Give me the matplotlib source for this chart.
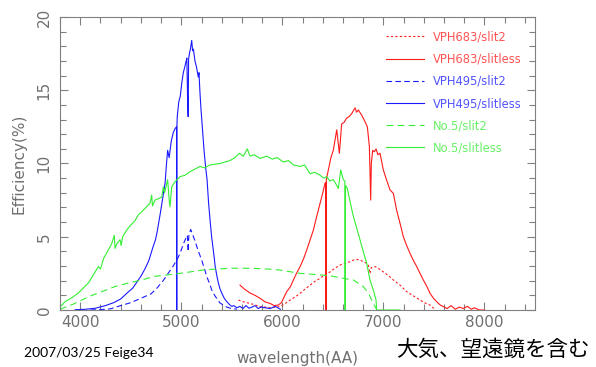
import matplotlib
matplotlib.use('Agg')
import matplotlib.pyplot as plt
from matplotlib.ticker import MultipleLocator

# VPH495 / slitless
lam_b = [3950, 4050, 4150, 4250, 4330, 4400, 4470, 4520, 4560, 4600, 4640, 4680, 4720, 4745, 4760,
         4790, 4820, 4840, 4855, 4865, 4880, 4900, 4920, 4940, 4953, 4955, 4957, 4960, 4975, 4990,
         5005, 5020, 5035, 5045, 5055, 5062, 5068, 5072, 5080, 5090, 5103, 5112, 5120, 5135, 5150,
         5160, 5168, 5175, 5185, 5195, 5210, 5225, 5240, 5255, 5270, 5285, 5300, 5320, 5335, 5350,
         5367, 5385, 5400, 5425, 5450, 5480, 5500, 5520, 5550, 5580, 5610, 5640, 5670, 5700, 5730,
         5760, 5790, 5830, 5880, 5930, 5980]
eff_b = [0.02, 0.05, 0.12, 0.3, 0.5, 0.75, 1.2, 1.5, 1.9, 2.3, 2.8, 3.4, 4.3, 4.8, 5.3,
         6.5, 7.8, 8.7, 10.1, 10.9, 10.4, 11.5, 12.1, 12.4, 12.5, 0.0, 12.6, 13.2, 14.2, 14.6,
         15.5, 16.2, 16.6, 16.9, 17.2, 14.5, 13.2, 17.1, 17.5, 17.8, 18.4, 17.7, 17.8, 17.0, 16.6,
         16.2, 15.9, 16.2, 14.8, 13.7, 12.3, 10.9, 9.8, 8.9, 7.3, 6.1, 5.0, 3.9, 3.0, 2.4,
         1.84, 1.4, 1.16, 0.8, 0.57, 0.35, 0.25, 0.3, 0.15, 0.25, 0.1, 0.3, 0.12, 0.2, 0.3,
         0.1, 0.2, 0.15, 0.1, 0.25, 0.05]

# VPH495 / slit2
lam_bd = [4100, 4200, 4300, 4400, 4500, 4600, 4700, 4760, 4820, 4870, 4920, 4970, 5000, 5020, 5045,
          5060, 5068, 5075, 5093, 5110, 5136, 5170, 5202, 5230, 5251, 5280, 5301, 5330, 5350, 5380,
          5415, 5450, 5482, 5550]
eff_bd = [0.0, 0.03, 0.08, 0.3, 0.5, 0.8, 1.1, 1.5, 2.0, 2.5, 3.0, 3.6, 4.1, 4.5, 4.9,
          5.1, 4.0, 5.1, 5.5, 5.2, 4.7, 4.0, 3.4, 2.8, 2.3, 1.8, 1.37, 1.0, 0.8, 0.5,
          0.34, 0.2, 0.13, 0.05]

# No.5 / slitless
lam_g = [3800, 3850, 3920, 3981, 4030, 4080, 4130, 4179, 4200, 4230, 4278, 4310, 4337, 4345, 4360,
         4394, 4405, 4420, 4460, 4500, 4542, 4575, 4608, 4650, 4691, 4707, 4715, 4740, 4773, 4806,
         4822, 4835, 4865, 4880, 4888, 4905, 4938, 4987, 5037, 5086, 5130, 5185, 5230, 5284, 5330,
         5383, 5430, 5482, 5530, 5574, 5614, 5653, 5680, 5720, 5779, 5845, 5900, 5950, 6010, 6060,
         6110, 6175, 6220, 6274, 6320, 6373, 6410, 6439, 6470, 6504, 6530, 6554, 6577, 6603, 6618,
         6621, 6625, 6643, 6670, 6702, 6735, 6768, 6800, 6834, 6867, 6900, 6927, 6933, 7000, 7165]
eff_g = [0.2, 0.57, 0.85, 1.16, 1.5, 1.84, 2.4, 2.96, 2.8, 3.5, 4.1, 4.5, 5.1, 4.2, 4.5,
         4.8, 4.4, 5.0, 5.46, 5.8, 6.1, 6.5, 6.7, 7.0, 7.3, 7.85, 7.1, 7.5, 7.6, 7.7,
         8.4, 8.0, 8.9, 7.5, 7.05, 8.4, 8.76, 9.1, 9.2, 9.44, 9.6, 9.8, 9.7, 9.9, 9.95,
         10.0, 10.1, 10.2, 10.4, 10.7, 10.5, 11.0, 10.5, 10.6, 10.35, 10.5, 10.3, 10.4, 10.1, 10.2,
         9.9, 9.8, 9.9, 9.3, 9.4, 9.2, 9.0, 9.1, 8.8, 8.9, 8.6, 8.3, 9.56, 8.9, 8.8,
         0.0, 8.5, 8.3, 7.4, 6.4, 5.6, 4.8, 4.0, 3.2, 2.05, 1.37, 0.68, 0.0, 0.0, 0.0]

# No.5 / slit2
lam_gd = [3800, 3948, 4080, 4212, 4344, 4476, 4608, 4740, 4872, 5037, 5218, 5350, 5500, 5680, 5845,
          5977, 6175, 6373, 6500, 6603, 6702, 6801, 6851, 6900, 6927]
eff_gd = [0.05, 0.45, 0.9, 1.25, 1.6, 1.84, 2.05, 2.3, 2.4, 2.55, 2.73, 2.8, 2.85, 2.85, 2.8,
          2.73, 2.5, 2.4, 2.3, 2.16, 2.05, 1.6, 1.16, 0.45, 0.1]

# VPH683 / slitless
lam_r = [5581, 5620, 5680, 5730, 5779, 5830, 5878, 5920, 5960, 5990, 6043, 6080, 6109, 6140, 6175,
         6210, 6241, 6275, 6307, 6340, 6373, 6400, 6422, 6429, 6432, 6435, 6455, 6480, 6504, 6538,
         6564, 6587, 6610, 6636, 6660, 6686, 6719, 6735, 6752, 6785, 6818, 6841, 6861, 6874, 6880,
         6894, 6910, 6927, 6945, 6966, 6999, 7030, 7065, 7098, 7131, 7165, 7197, 7230, 7263, 7295,
         7330, 7362, 7395, 7430, 7461, 7495, 7527, 7560, 7593, 7630, 7670, 7710, 7750, 7790, 7830,
         7870, 7900, 7950, 8000]
eff_r = [1.7, 1.45, 1.16, 1.0, 0.8, 0.55, 0.45, 0.3, 0.34, 0.5, 1.25, 1.6, 2.05, 2.5, 2.96,
         3.5, 4.1, 4.8, 5.46, 6.4, 7.28, 8.0, 8.65, 8.7, 0.0, 8.9, 9.56, 10.4, 10.9, 12.3,
         10.7, 12.7, 12.8, 13.1, 13.2, 13.4, 13.8, 13.5, 13.65, 13.3, 12.85, 12.5, 11.15, 7.5, 10.0,
         10.9, 10.8, 11.0, 10.6, 10.7, 9.56, 8.9, 8.2, 7.96, 6.8, 5.9, 5.0, 4.4, 3.87, 3.4,
         2.96, 2.5, 2.05, 1.6, 1.14, 0.8, 0.57, 0.35, 0.23, 0.1, 0.3, 0.05, 0.2, 0.1, 0.25,
         0.05, 0.15, 0.0, 0.0]

# VPH683 / slit2
lam_rd = [5565, 5620, 5680, 5730, 5779, 5830, 5878, 5930, 5977, 6030, 6076, 6130, 6175, 6220, 6274,
          6320, 6373, 6420, 6472, 6520, 6571, 6620, 6670, 6700, 6736, 6770, 6801, 6830, 6851, 6860,
          6867, 6880, 6917, 6960, 6999, 7050, 7098, 7164, 7230, 7300, 7362, 7420, 7461, 7500]
eff_rd = [0.68, 0.55, 0.45, 0.35, 0.23, 0.2, 0.15, 0.2, 0.23, 0.45, 0.68, 0.9, 1.14, 1.4, 1.7,
          1.95, 2.16, 2.4, 2.6, 2.85, 3.07, 3.2, 3.3, 3.4, 3.46, 3.4, 3.3, 3.2, 3.07, 2.7,
          2.5, 2.9, 2.96, 2.8, 2.6, 2.35, 2.05, 1.7, 1.25, 0.95, 0.68, 0.45, 0.34, 0.1]

red = '#ff1a1a'
blue = '#1a1aff'
green = '#33ee33'
gray = '#808080'

fig = plt.figure(figsize=(5.96, 3.67), dpi=100)
ax = fig.add_axes([0.1007, 0.1553, 0.797, 0.7984])

lw = 0.8
ax.plot(lam_rd, eff_rd, color=red, lw=lw, dashes=(2, 2), label='VPH683/slit2')
ax.plot(lam_r, eff_r, color=red, lw=lw, label='VPH683/slitless')
ax.plot(lam_bd, eff_bd, color=blue, lw=lw, dashes=(5, 3), label='VPH495/slit2')
ax.plot(lam_b, eff_b, color=blue, lw=lw, label='VPH495/slitless')
ax.plot(lam_gd, eff_gd, color=green, lw=lw, dashes=(6, 4), label='No.5/slit2')
ax.plot(lam_g, eff_g, color=green, lw=lw, label='No.5/slitless')

ax.set_xlim(3800, 8500)
ax.set_ylim(0, 20)
ax.xaxis.set_major_locator(MultipleLocator(1000))
ax.xaxis.set_minor_locator(MultipleLocator(200))
ax.yaxis.set_major_locator(MultipleLocator(5))
ax.yaxis.set_minor_locator(MultipleLocator(1))
ax.tick_params(which='both', direction='in', top=True, right=True, color=gray,
               labelcolor='#707070', labelsize=11)
ax.tick_params(which='major', length=6, width=0.8)
ax.tick_params(which='minor', length=4, width=0.8)
ax.tick_params(axis='y', labelrotation=90, pad=6)
for t in ax.get_yticklabels():
    t.set_va('center')
for s in ax.spines.values():
    s.set_color(gray)
    s.set_linewidth(0.8)

ax.set_xlabel('wavelength(AA)', color='#707070', fontsize=11, labelpad=15)
ax.set_ylabel('Efficiency(%)', color='#707070', fontsize=11, labelpad=7)

leg = ax.legend(loc='upper right', bbox_to_anchor=(0.982, 0.97), frameon=False,
                fontsize=8.3, labelcolor='linecolor', handlelength=3.3,
                labelspacing=0.8, borderaxespad=0, handletextpad=0.75)
for t in leg.get_texts():
    t.set_alpha(0.75)

fig.text(0.04, 0.028, '2007/03/25 Feige34', fontsize=10, family='Lato', color='black',
         va='baseline')
fig.text(0.99, 0.03, '大気、望遠鏡を含む', fontsize=15.5, family=['Noto Sans CJK JP', 'DejaVu Sans'],
         color='black', ha='right', va='baseline')

fig.savefig('out.png', dpi=100)
